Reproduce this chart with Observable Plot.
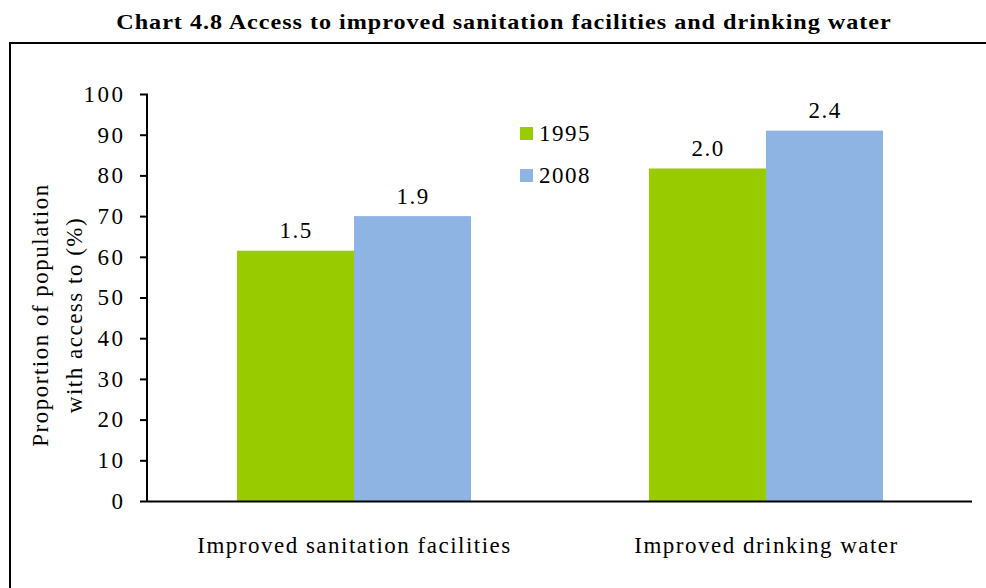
<!DOCTYPE html>
<html>
<head>
<meta charset="utf-8">
<script src="https://cdn.jsdelivr.net/npm/d3@7"></script>
<script src="https://cdn.jsdelivr.net/npm/@observablehq/plot@0.6"></script>
<style>
  html, body { margin: 0; padding: 0; background: #fff; }
  body { width: 986px; height: 588px; position: relative; overflow: hidden; font-family: "Liberation Serif", "Times New Roman", serif; color: #000; }
  #title { position: absolute; top: 12px; left: 0; width: 1008px; text-align: center; font-size: 21px; line-height: 21px; font-weight: bold; letter-spacing: 0.85px; white-space: nowrap; transform: scaleX(1.15); transform-origin: 504px 50%; }
  #frame { position: absolute; left: 9px; top: 42px; width: 1000px; height: 600px; border-left: 2px solid #000; border-top: 2px solid #000; box-sizing: border-box; }
  #chart { position: absolute; left: 0; top: 43px; }
  #ylabel { position: absolute; left: -92.5px; top: 281px; width: 300px; line-height: 34px; text-align: center; font-size: 23px; letter-spacing: 1.5px; transform: rotate(-90deg); transform-origin: 50% 50%; white-space: nowrap; }
  .leg { position: absolute; font-size: 23px; line-height: 23px; letter-spacing: 1.5px; }
  .sw { position: absolute; width: 13px; height: 13px; }
</style>
</head>
<body>
<div id="title"></div>
<div id="frame"></div>
<div id="chart"></div>
<div id="ylabel"></div>
<div id="legend"></div>
<script>
const titleText = "Chart 4.8 Access to improved sanitation facilities and drinking water";
const yLabelLines = ["Proportion of population", "with access to (%)"];
const categories = ["Improved sanitation facilities", "Improved drinking water"];
const years = ["1995", "2008"];
const values1995 = [61.5, 81.7];
const values2008 = [70.0, 91.0];
const labels1995 = ["1.5", "2.0"];
const labels2008 = ["1.9", "2.4"];
const yTicks = [0, 10, 20, 30, 40, 50, 60, 70, 80, 90, 100];
const colors = ["#99cc00", "#8eb4e3"];

document.getElementById("title").textContent = titleText;
document.getElementById("ylabel").innerHTML = yLabelLines.join("<br>");

const data = categories.flatMap((c, i) => [
  {category: c, year: years[0], value: values1995[i], label: labels1995[i]},
  {category: c, year: years[1], value: values2008[i], label: labels2008[i]}
]);

const marginLeft = 147;
const plot = Plot.plot({
  width: 986,
  height: 545,
  marginLeft,
  marginRight: 14,
  marginTop: 51,
  marginBottom: 87,
  style: {fontFamily: "'Liberation Serif', 'Times New Roman', serif", fontSize: "23px", color: "black", background: "transparent", overflow: "visible", letterSpacing: "1.5px"},
  fx: {domain: categories, padding: 0, label: null},
  x: {domain: years, paddingInner: 0, paddingOuter: 0.75, axis: null},
  y: {domain: [0, 100]},
  color: {domain: years, range: colors},
  marks: [
    Plot.barY(data, {fx: "category", x: "year", y: "value", fill: "year"}),
    Plot.text(data, {fx: "category", x: "year", y: "value", text: "label", lineAnchor: "bottom", dy: -13, fontSize: 23, fill: "black"}),
    Plot.ruleY([0], {stroke: "black", strokeWidth: 2}),
    Plot.axisY({ticks: yTicks, tickSize: 8, tickPadding: 15, label: null, fontSize: 23, strokeWidth: 2}),
    Plot.axisFx({anchor: "bottom", tickSize: 0, tickPadding: 35, label: null, fontSize: 23})
  ]
});

// y axis line, derived from the plot's y scale range
const yr = plot.scale("y").range;
d3.select(plot).append("line")
  .attr("x1", marginLeft).attr("x2", marginLeft)
  .attr("y1", yr[0] + 1).attr("y2", yr[1])
  .attr("stroke", "black").attr("stroke-width", 2);
// slightly wider digit spacing on the y tick labels
d3.select(plot).selectAll("[aria-label='y-axis tick label'] text, [aria-label='y-axis tick label']").style("letter-spacing", "2.5px");

document.getElementById("chart").appendChild(plot);

// legend
const legend = document.getElementById("legend");
years.forEach((yv, i) => {
  const sw = document.createElement("div");
  sw.className = "sw";
  sw.style.left = "520px";
  sw.style.top = (127 + i * 42) + "px";
  sw.style.background = colors[i];
  legend.appendChild(sw);
  const t = document.createElement("div");
  t.className = "leg";
  t.style.left = "539px";
  t.style.top = (122 + i * 42) + "px";
  t.textContent = yv;
  legend.appendChild(t);
});
</script>
</body>
</html>
